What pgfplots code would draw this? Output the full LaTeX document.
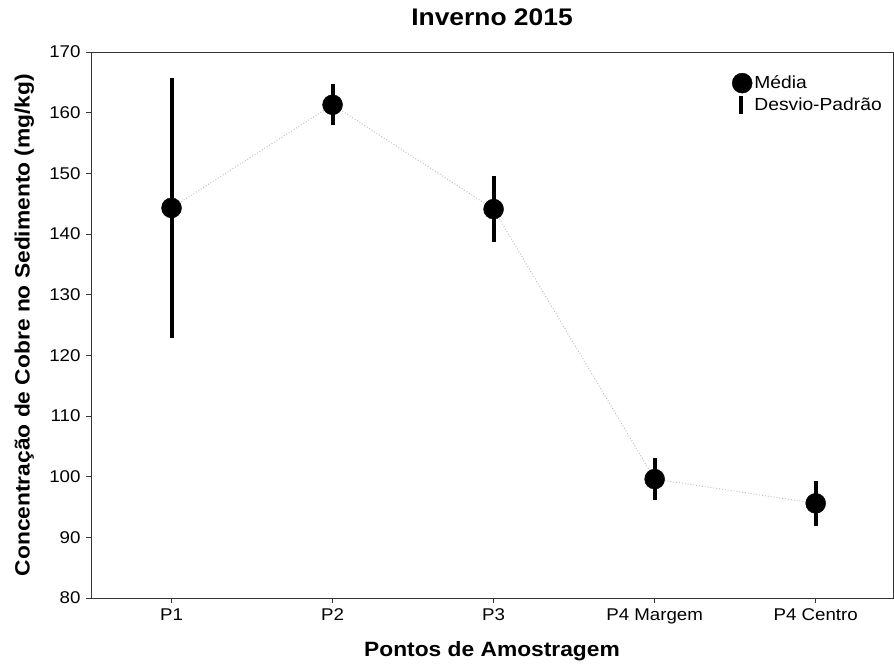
\documentclass[border=0pt]{standalone}
\usepackage{pgfplots}
\pgfplotsset{compat=1.18}
\usepackage{fontspec}
\setmainfont{Liberation Sans}[FakeStretch=1.1]
\begin{document}
\begin{tikzpicture}[x=1pt,y=1pt]
\begin{axis}[
  name=ax,
  scale only axis,
  width=802pt, height=546pt,
  xmin=-0.5, xmax=4.48,
  ymin=80, ymax=170,
  ytick={80,90,...,170},
  xtick={0,1,2,3,4},
  xticklabels={P1,P2,P3,P4 Margem,P4 Centro},
  xtick pos=bottom, ytick pos=left,
  tick align=outside,
  major tick length=5pt,
  tick style={black!80, line width=0.9pt},
  axis line style={black!80, line width=0.9pt},
  tick label style={font=\fontsize{17}{20}\selectfont},
  yticklabel style={xshift=-2pt},
  xticklabel style={yshift=-2pt},
  /pgf/number format/assume math mode=true,
  title={\bfseries Inverno 2015},
  title style={font=\fontsize{24}{28}\selectfont, at={(axis description cs:0.5,1.052)}, anchor=center},
  xlabel={\bfseries Pontos de Amostragem},
  ylabel={\bfseries Concentração de Cobre no Sedimento (mg/kg)},
  label style={font=\fontsize{20.7}{24}\selectfont},
  xlabel style={at={(axis description cs:0.5,-0.097)}, anchor=center},
  ylabel style={at={(axis description cs:-0.083,0.5)}, anchor=center},
  legend style={draw=none, fill=none, font=\fontsize{17.5}{21}\selectfont, at={(axis description cs:0.799,0.962)}, anchor=north west, inner sep=0pt, row sep=1pt},
  legend cell align=left,
]
\addplot[gray!55, dotted, line width=0.9pt, forget plot] coordinates {(0,144.3) (1,161.3) (2,144.1) (3,99.6) (4,95.6)};
\addplot[only marks, mark=*, mark size=10pt, black, forget plot,
  error bars/.cd, y dir=both, y explicit, error mark=none,
  error bar style={line width=4pt, black}]
  coordinates {
  (0,144.3) +- (0,21.4)
  (1,161.3) +- (0,3.4)
  (2,144.1) +- (0,5.4)
  (3,99.6) +- (0,3.4)
  (4,95.6) +- (0,3.7)
  };
\addlegendimage{legend image code/.code={\fill[black] (10pt,0pt) circle (10pt);}}
\addlegendentry{Média}
\addlegendimage{legend image code/.code={\draw[line width=4pt, black] (9pt,-9pt)--(9pt,9pt);}}
\addlegendentry{Desvio-Padrão}
\end{axis}
\pgfresetboundingbox
\path[use as bounding box] ([shift={(-91pt,-68pt)}]ax.south west) rectangle ([shift={(1pt,52pt)}]ax.north east);
\end{tikzpicture}
\end{document}
